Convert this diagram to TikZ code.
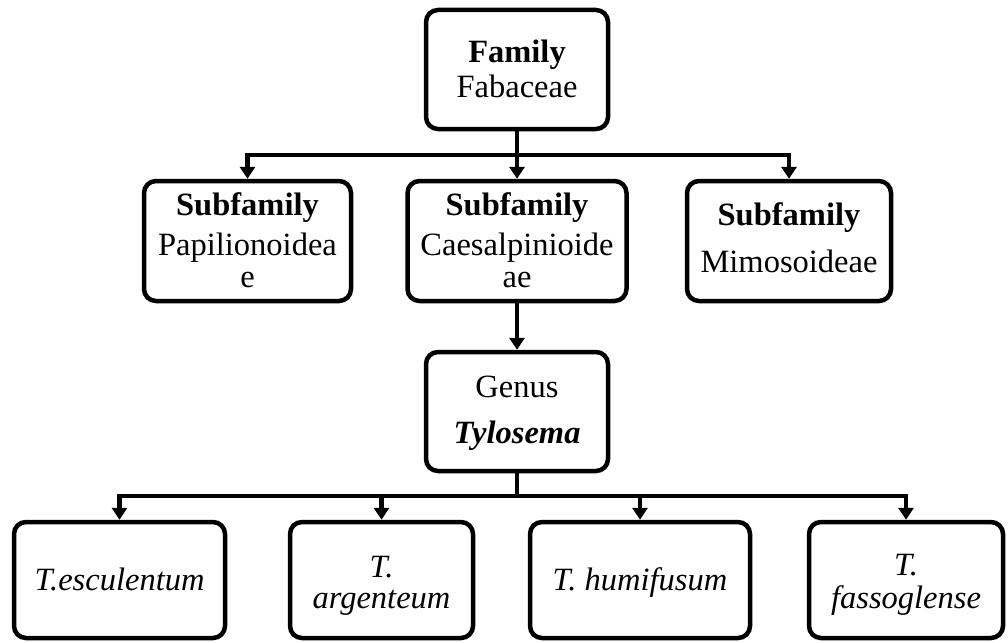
\documentclass[tikz,border=0pt]{standalone}
\usepackage{fontspec}
\setmainfont{Liberation Serif}
\usetikzlibrary{arrows.meta}
\begin{document}
\begin{tikzpicture}[x=1pt,y=-1pt,
  box/.style={draw, line width=4.5pt, rounded corners=12pt, inner sep=0pt},
  lbl/.style={anchor=base, inner sep=0pt, font=\fontsize{32.5}{36}\selectfont},
  conn/.style={line width=4.5pt, line join=miter},
  tip/.style={-{Triangle[width=15pt,length=12pt]}},
  tips/.style={{Triangle[width=15pt,length=12pt]}-{Triangle[width=15pt,length=12pt]}}
]
\useasboundingbox (0,0) rectangle (1008,642);
% boxes
\node[box, minimum width=182pt, minimum height=119pt] (top) at (517,69.5) {};
\node[box, minimum width=207pt, minimum height=120pt] (subL) at (247.5,241) {};
\node[box, minimum width=219pt, minimum height=120pt] (subM) at (517,241) {};
\node[box, minimum width=204pt, minimum height=120pt] (subR) at (789,241) {};
\node[box, minimum width=182pt, minimum height=119pt] (genus) at (517,411.5) {};
\node[box, minimum width=211pt, minimum height=116pt] (b1) at (119.5,580) {};
\node[box, minimum width=183pt, minimum height=116pt] (b2) at (381.5,580) {};
\node[box, minimum width=220pt, minimum height=116pt] (b3) at (640,580) {};
\node[box, minimum width=194pt, minimum height=116pt] (b4) at (906,580) {};
% texts
\node[lbl] (t1) at (517,63) {\textbf{Family}};
\node[lbl] (t2) at (517,97) {Fabaceae};
\node[lbl] (sl1) at (247.5,215) {\textbf{Subfamily}};
\node[lbl] (sl2) at (247.5,255) {Papilionoidea};
\node[lbl] (sl3) at (247.5,287) {e};
\node[lbl] (sm1) at (517,215) {\textbf{Subfamily}};
\node[lbl] (sm2) at (517,255) {Caesalpinioide};
\node[lbl] (sm3) at (517,287) {ae};
\node[lbl] (sr1) at (789,225) {\textbf{Subfamily}};
\node[lbl] (sr2) at (789,272) {Mimosoideae};
\node[lbl] (g1) at (517,397) {Genus};
\node[lbl] (g2) at (517,443) {\textbf{\textit{Tylosema}}};
\node[lbl] (e1) at (119.5,590) {\textit{T.esculentum}};
\node[lbl] (e2a) at (381.5,577) {\textit{T.}};
\node[lbl] (e2b) at (381.5,608) {\textit{argenteum}};
\node[lbl] (e3) at (640,590) {\textit{T. humifusum}};
\node[lbl] (e4a) at (906,575) {\textit{T.}};
\node[lbl] (e4b) at (906,608) {\textit{fassoglense}};
% connectors
\coordinate (bar1) at (517,155);
\coordinate (bar2) at (517,496);
\draw[conn, tips] (subL.north) -- (bar1 -| subL.north) -- (bar1 -| subR.north) -- (subR.north);
\draw[conn, tip] (top.south) -- (subM.north);
\draw[conn, tip] (subM.south) -- (genus.north);
\draw[conn] (genus.south) -- (bar2);
\draw[conn, tips] (b1.north) -- (bar2 -| b1.north) -- (bar2 -| b4.north) -- (b4.north);
\draw[conn, tip] (bar2 -| b2.north) -- (b2.north);
\draw[conn, tip] (bar2 -| b3.north) -- (b3.north);
\end{tikzpicture}
\end{document}
